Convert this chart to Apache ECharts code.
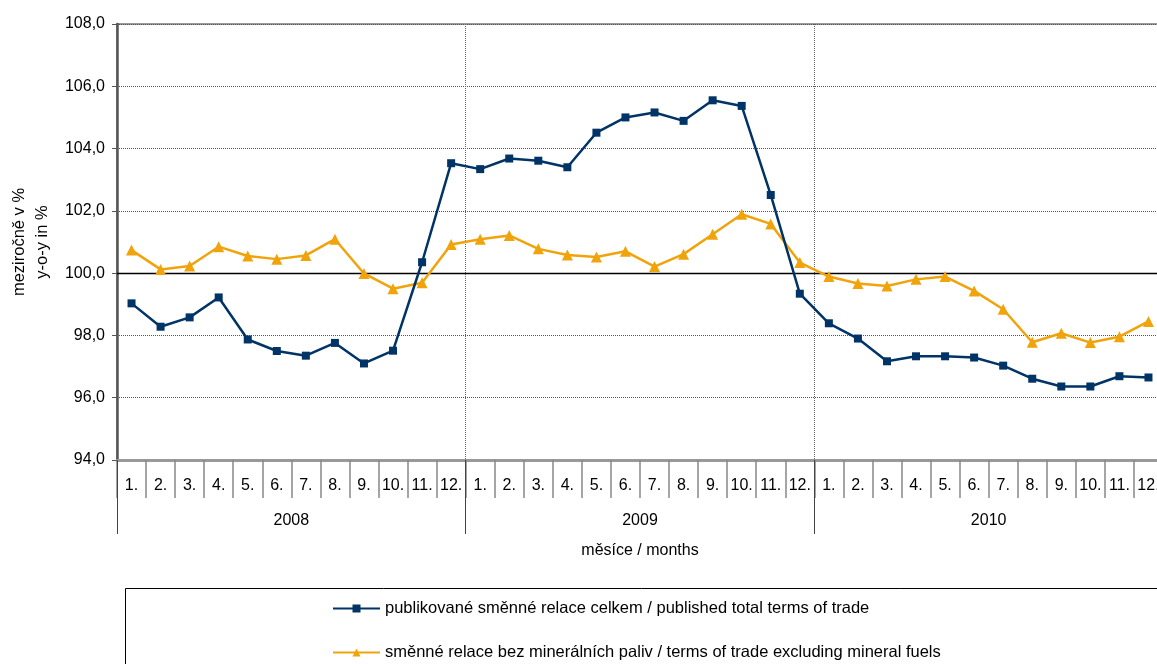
<!DOCTYPE html>
<html>
<head>
<meta charset="utf-8">
<script src="https://cdn.jsdelivr.net/npm/echarts@6/dist/echarts.min.js"></script>
<style>
  html, body { margin: 0; padding: 0; background: #fff; }
  #chart { width: 1157px; height: 664px; }
</style>
</head>
<body>
<div id="chart"></div>
<script>
// mesice a roky na ose x
const months = ['1.', '2.', '3.', '4.', '5.', '6.', '7.', '8.', '9.', '10.', '11.', '12.',
  '1.', '2.', '3.', '4.', '5.', '6.', '7.', '8.', '9.', '10.', '11.', '12.',
  '1.', '2.', '3.', '4.', '5.', '6.', '7.', '8.', '9.', '10.', '11.', '12.']
const years = ['2008', '2009', '2010']

// publikovane smenne relace celkem
const totalTerms = [
  99.03, 98.28, 98.58, 99.22, 97.87, 97.50, 97.35, 97.76, 97.10, 97.51, 100.35, 103.53,
  103.34, 103.68, 103.61, 103.40, 104.51, 105.00, 105.16, 104.89, 105.55, 105.37, 102.51, 99.34,
  98.39, 97.90, 97.17, 97.33, 97.33, 97.29, 97.03, 96.61, 96.36, 96.36, 96.69, 96.65
]
// smenne relace bez mineralnich paliv
const exFuels = [
  100.74, 100.12, 100.23, 100.85, 100.55, 100.45, 100.57, 101.09, 99.99, 99.50, 99.69, 100.92,
  101.09, 101.21, 100.78, 100.58, 100.52, 100.70, 100.21, 100.61, 101.25, 101.89, 101.58, 100.34,
  99.89, 99.67, 99.59, 99.80, 99.89, 99.43, 98.84, 97.78, 98.07, 97.77, 97.96, 98.45
]

const seriesNames = [
  'publikované směnné relace celkem / published total terms of trade',
  'směnné relace bez minerálních paliv / terms of trade excluding mineral fuels'
]

const font = "'Liberation Sans', Arial, sans-serif"
const chart = echarts.init(document.getElementById('chart'))

chart.setOption({
  animation: false,
  textStyle: { fontFamily: font },
  grid: {
    left: 117, top: 24, width: 1046, height: 436,
    outerBoundsMode: 'none',
    show: true, borderColor: '#999', borderWidth: 2
  },
  legend: {
    data: seriesNames,
    orient: 'vertical',
    left: 327, top: 595, height: 100,
    itemWidth: 47, itemHeight: 10, itemGap: 27,
    textStyle: { fontSize: 16.5, color: '#000', fontFamily: font }
  },
  graphic: [{
    type: 'rect',
    shape: { x: 125.5, y: 588.5, width: 1100, height: 120 },
    style: { fill: null, stroke: '#000', lineWidth: 1 },
    silent: true, z: -1
  }],
  xAxis: [
    {
      type: 'category',
      data: months,
      boundaryGap: true,
      axisLine: { lineStyle: { color: '#999', width: 3 } },
      axisTick: { show: true, interval: 0, length: 38, lineStyle: { color: '#888', width: 1.5 } },
      axisLabel: { interval: 0, margin: 18, fontSize: 16, color: '#000', fontFamily: font },
      splitLine: { show: false }
    },
    {
      type: 'category',
      data: years,
      position: 'bottom',
      boundaryGap: true,
      axisLine: { show: false },
      axisTick: { show: true, interval: 0, length: 74, lineStyle: { color: '#444', width: 1 } },
      axisLabel: { interval: 0, margin: 53, fontSize: 16, color: '#000', fontFamily: font },
      splitLine: { show: true, interval: 0, lineStyle: { type: 'dotted', color: '#666', width: 1 } },
      name: 'měsíce / months',
      nameLocation: 'middle',
      nameGap: 83,
      nameTextStyle: { fontSize: 16, color: '#000', fontFamily: font }
    }
  ],
  yAxis: {
    type: 'value',
    min: 94, max: 108, interval: 2,
    axisLine: { show: true, lineStyle: { color: '#555', width: 2.5 } },
    axisTick: { show: true, length: 5, lineStyle: { color: '#555' } },
    axisLabel: {
      fontSize: 16, color: '#000', margin: 12, fontFamily: font,
      formatter: v => v.toFixed(1).replace('.', ',')
    },
    splitLine: { lineStyle: { type: 'dotted', color: '#555', width: 1 } },
    name: 'meziročně v %\ny-o-y in %',
    nameLocation: 'middle',
    nameRotate: 90,
    nameGap: 61,
    nameTextStyle: { fontSize: 16.5, color: '#000', lineHeight: 23, fontFamily: font }
  },
  series: [
    {
      name: seriesNames[0],
      type: 'line',
      data: totalTerms,
      symbol: 'rect',
      symbolSize: 8,
      lineStyle: { color: '#003366', width: 2.5 },
      itemStyle: { color: '#003366' },
      z: 3,
      markLine: {
        silent: true, symbol: 'none', z: 1,
        label: { show: false },
        lineStyle: { color: '#000', width: 1.3, type: 'solid' },
        data: [{ yAxis: 100 }]
      }
    },
    {
      name: seriesNames[1],
      type: 'line',
      data: exFuels,
      symbol: 'triangle',
      symbolSize: 11,
      lineStyle: { color: '#f0a30a', width: 2.5 },
      itemStyle: { color: '#f0a30a' },
      z: 2
    }
  ]
})

window.addEventListener('resize', () => chart.resize())
</script>
</body>
</html>
